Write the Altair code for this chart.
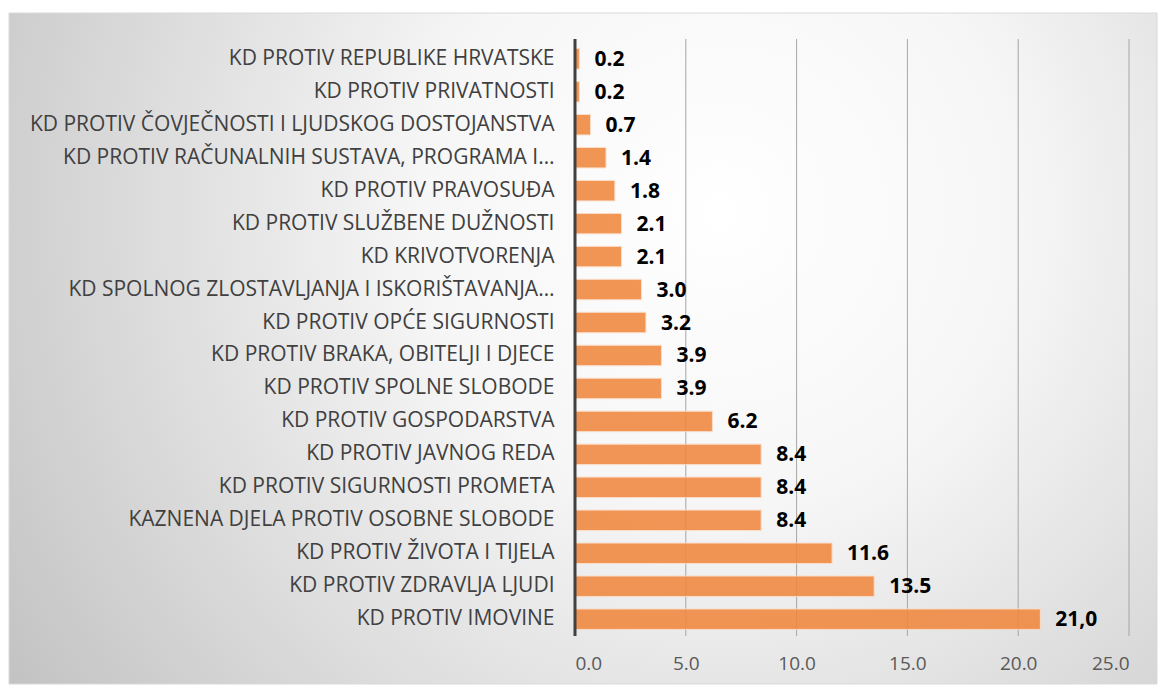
import altair as alt
import pandas as pd

categories = [
    "KD PROTIV REPUBLIKE HRVATSKE",
    "KD PROTIV PRIVATNOSTI",
    "KD PROTIV ČOVJEČNOSTI I LJUDSKOG DOSTOJANSTVA",
    "KD PROTIV RAČUNALNIH SUSTAVA, PROGRAMA I…",
    "KD PROTIV PRAVOSUĐA",
    "KD PROTIV SLUŽBENE DUŽNOSTI",
    "KD KRIVOTVORENJA",
    "KD SPOLNOG ZLOSTAVLJANJA I ISKORIŠTAVANJA…",
    "KD PROTIV OPĆE SIGURNOSTI",
    "KD PROTIV BRAKA, OBITELJI I DJECE",
    "KD PROTIV SPOLNE SLOBODE",
    "KD PROTIV GOSPODARSTVA",
    "KD PROTIV JAVNOG REDA",
    "KD PROTIV SIGURNOSTI PROMETA",
    "KAZNENA DJELA PROTIV OSOBNE SLOBODE",
    "KD PROTIV ŽIVOTA I TIJELA",
    "KD PROTIV ZDRAVLJA LJUDI",
    "KD PROTIV IMOVINE",
]
values = [0.2, 0.2, 0.7, 1.4, 1.8, 2.1, 2.1, 3.0, 3.2, 3.9, 3.9, 6.2, 8.4, 8.4, 8.4, 11.6, 13.5, 21.0]
value_labels = ["0.2", "0.2", "0.7", "1.4", "1.8", "2.1", "2.1", "3.0", "3.2", "3.9", "3.9",
                "6.2", "8.4", "8.4", "8.4", "11.6", "13.5", "21,0"]
grid_ticks = [5, 10, 15, 20, 25]

df = pd.DataFrame({"cat": categories, "val": values, "lab": value_labels})
grid_df = pd.DataFrame({"g": grid_ticks})

W, H = 554, 594
FONT = "Open Sans"

bg = alt.Chart(pd.DataFrame({"d": [0]})).mark_rect(
    color=alt.RadialGradient(
        gradient="radial",
        stops=[alt.GradientStop(offset=0, color="#ffffff"),
               alt.GradientStop(offset=0.35, color="#f6f6f6"),
               alt.GradientStop(offset=1, color="#c2c2c2")],
        x1=0.62, y1=0.38, r1=0, x2=0.62, y2=0.38, r2=0.75,
    ),
    stroke="#d9d9d9",
    strokeWidth=1,
).encode(
    x=alt.value(-566), x2=alt.value(W + 28),
    y=alt.value(-29), y2=alt.value(H + 48),
)

y_enc = alt.Y("cat:N", sort=categories, title=None,
              scale=alt.Scale(paddingInner=0.38, paddingOuter=0.2),
              axis=alt.Axis(labelFont=FONT, labelFontSize=21, labelColor="#404040",
                            labelPadding=21, ticks=False, domain=False,
                            labelLimit=600, zindex=2))
x_enc = alt.X("val:Q", title=None,
              scale=alt.Scale(domain=[0, 25], nice=False),
              axis=alt.Axis(values=[0, 5, 10, 15, 20, 25], format=".1f",
                            labelFont=FONT, labelFontSize=19, labelColor="#595959",
                            labelPadding=18, ticks=False, domain=False,
                            grid=False, zindex=2))

grid = alt.Chart(grid_df).mark_rule(color="#a6a6a6", strokeWidth=1).encode(
    x=alt.X("g:Q"), y=alt.value(-3), y2=alt.value(H))

bars = alt.Chart(df).mark_bar(
    color="#F0883F", opacity=0.88, stroke="#fbd9c2", strokeWidth=1
).encode(x=x_enc, y=y_enc)

labels = alt.Chart(df).mark_text(
    align="left", baseline="middle", dx=15, dy=1, font=FONT, fontSize=21,
    fontWeight="bold", color="#000000"
).encode(x="val:Q", y=alt.Y("cat:N", sort=categories), text="lab:N")

yline = alt.Chart(pd.DataFrame({"z": [0]})).mark_rule(
    color="#404040", strokeWidth=3
).encode(x=alt.X("z:Q"), y=alt.value(-3), y2=alt.value(H))

chart = alt.layer(bg, grid, bars, yline, labels).properties(
    width=W, height=H,
    padding={"top": 4, "left": 0, "right": 0, "bottom": 0},
).configure_view(stroke=None).configure(background="#ffffff")

chart.save("out.html", embed_options={"renderer": "svg", "actions": False})
